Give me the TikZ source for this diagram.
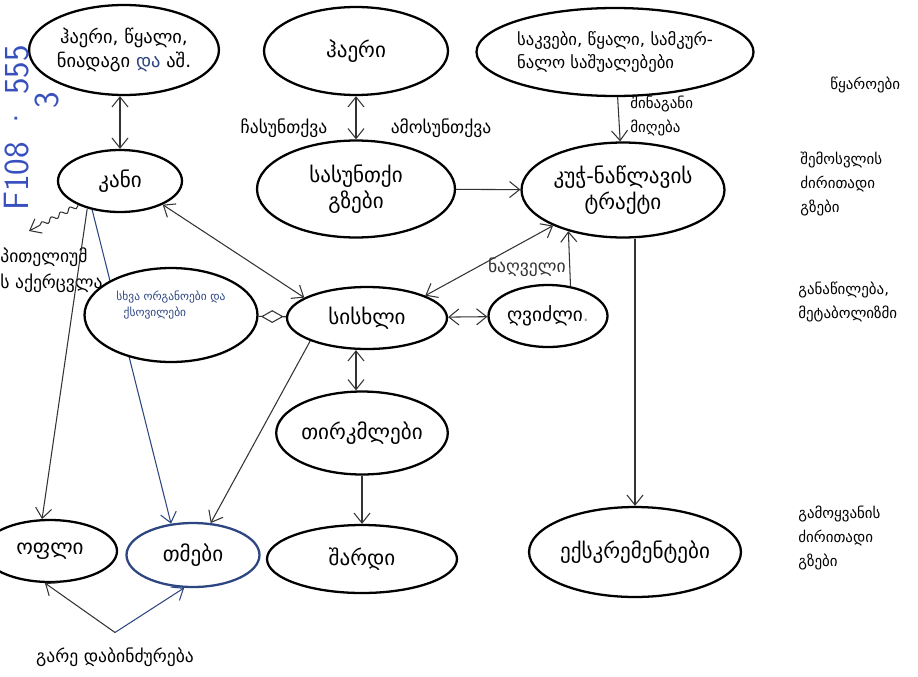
\documentclass[tikz,border=0pt]{standalone}
\usepackage{fontspec}
\setmainfont[Script=Georgian]{DejaVu Sans}
\usepackage{xcolor}
\usepackage{tikz}
\usetikzlibrary{arrows.meta,positioning,shapes.geometric,backgrounds,decorations.pathmorphing}
\definecolor{inkblue}{RGB}{45,70,130}
\definecolor{penblue}{RGB}{55,80,190}

\begin{document}
\begin{tikzpicture}[x=0.02cm, y=-0.02cm,
  oval/.style={draw, ellipse, line width=1.3pt, inner sep=0pt, align=center, font=\fontsize{12}{15}\selectfont, fill=white},
  side/.style={align=left, font=\fontsize{8.5}{13.6}\selectfont, inner sep=0pt},
  note/.style={font=\fontsize{10}{14.5}\selectfont, inner sep=1pt},
  hand/.style={font=\sffamily\fontsize{20}{20}\selectfont, text=penblue, inner sep=0pt},
  gem/.style={draw, diamond, aspect=1.75, minimum width=0.42cm, minimum height=0.24cm, inner sep=0pt, fill=white, line width=0.6pt},
  arrow/.style={-{Straight Barb[length=2mm,width=3.2mm]}, line width=0.6pt, color=black!80},
  darrow/.style={{Straight Barb[length=2mm,width=3.2mm]}-{Straight Barb[length=2mm,width=3.2mm]}, line width=0.6pt, color=black!80},
]
\useasboundingbox (0,0) rectangle (918,676);

% sources
\node[oval, minimum width=3.56cm, minimum height=1.8cm, font=\fontsize{10.5}{14}\selectfont] (env) at (124,50) {ჰაერი, წყალი,\\ნიადაგი {\color{inkblue}და} აშ.};
\node[oval, minimum width=3.68cm, minimum height=1.76cm] (air) at (356,51) {ჰაერი};
\node[oval, minimum width=5.5cm, minimum height=1.76cm, align=left, font=\fontsize{9.5}{13}\selectfont] (food) at (615,52) {საკვები, წყალი, სამკურ-\\ნალო საშუალებები};

% entry routes
\node[oval, minimum width=2.48cm, minimum height=1.24cm] (skin) at (120,181) {კანი};
\node[oval, minimum width=3.96cm, minimum height=1.94cm] (resp) at (356,189) {სასუნთქი\\გზები};
\node[oval, minimum width=4.06cm, minimum height=1.9cm] (gi) at (623,190) {კუჭ-ნაწლავის\\ტრაქტი};

% distribution
\node[oval, minimum width=3.46cm, minimum height=1.88cm,
  label={[font=\fontsize{6.5}{9}\selectfont, text=inkblue, align=left, yshift=0.2cm]center:სხვა ორგანოები და\\\ \ ქსოვილები}] (organs) at (171,315) {};
\node[oval, minimum width=3.2cm, minimum height=1.24cm] (blood) at (367,318) {სისხლი};
\node[oval, minimum width=2.38cm, minimum height=1.24cm, font=\fontsize{11}{14}\selectfont] (liver) at (548,316) {ღვიძლი{\color{black!40}.}};
\node[oval, minimum width=3.4cm, minimum height=1.66cm] (kidneys) at (362,433) {თირკმლები};

% excretion
\node[oval, minimum width=2.68cm, minimum height=1.24cm] (sweat) at (50,551) {ოფლი};
\node[oval, minimum width=2.66cm, minimum height=1.28cm, draw=inkblue] (hair) at (193,555) {თმები};
\node[oval, minimum width=3.8cm, minimum height=1.36cm] (urine) at (362,559) {შარდი};
\node[oval, minimum width=4.0cm, minimum height=1.8cm] (excr) at (635,552) {ექსკრემენტები};

% side captions
\node[side, anchor=west] (sources) at (830,85) {წყაროები};
\node[side, anchor=north west] (entry) at (800,152) {შემოსვლის\\ძირითადი\\გზები};
\node[side, anchor=north west] (distrib) at (798,282) {განაწილება,\\მეტაბოლიზმი};
\node[side, anchor=north west] (exitw) at (798,506) {გამოყვანის\\ძირითადი\\გზები};

% small labels
\node[note] (inhale) at (284,128) {ჩასუნთქვა};
\node[note] (exhale) at (441,128) {ამოსუნთქვა};
\node[side, anchor=north west] (oral) at (630,96) {შინაგანი\\მიღება};
\node[note] (pollut) at (115,657) {გარე დაბინძურება};
\node[note, align=left, anchor=west, inner sep=0pt] (epi) at (0,270) {პითელიუმ\\ს აქერცვლა};
\coordinate[above=0.26cm of pollut] (apex);
\coordinate (epitip) at (29,231);

% handwritten mark
\node[hand, rotate=90] (mark) at (17,128) {F108 · 555};
\node[hand, rotate=90] (mark3) at (47,100) {3};

% connectors
\draw[darrow] (skin.north |- env.south) -- (skin.north);
\draw[darrow] (air) -- (resp);
\draw[arrow] (resp) -- (gi);
\draw[arrow] (food) -- (gi);
\draw[darrow] (skin.-29) -- (blood.162);
\draw[line width=0.6pt, black!80] (organs) -- (blood) node[midway, gem] {};
\draw[darrow] (blood) -- (liver);
\draw[darrow] (gi.-153) -- (blood.21);
\draw[arrow] (liver.53) -- (gi.-143) node[pos=0.35, left, note, inner sep=2pt] {ნაღველი};
\draw[arrow] (gi.south -| excr.north) -- (excr.north);
\draw[darrow] (resp.south |- blood.south) -- (resp.south |- kidneys.north);
\draw[arrow] (kidneys) -- (urine);
\draw[arrow] (skin.-140) -- (sweat.104);
\begin{scope}[on background layer]
  \draw[arrow, color=inkblue] (skin.-134) -- (hair.125);
\end{scope}
\draw[arrow] (blood.-158) -- (hair.61);
\draw[arrow] (apex) -- (sweat.-99);
\draw[arrow, color=inkblue] (apex) -- (hair.-105);
\draw[arrow, decorate, decoration={snake, amplitude=1.2pt, segment length=6pt, post length=2mm}] (skin.-150) -- (epitip);

\end{tikzpicture}
\end{document}
